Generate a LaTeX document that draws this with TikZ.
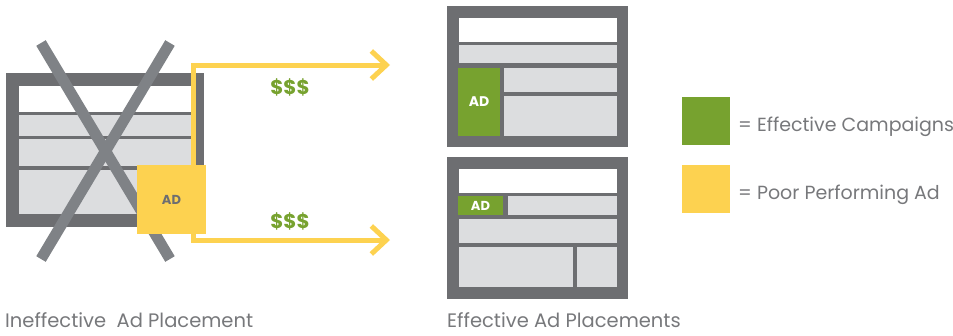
\documentclass[tikz,border=0pt]{standalone}
\usepackage{fontspec}
\setmainfont{Poppins}
\usetikzlibrary{arrows.meta}
\definecolor{framedark}{HTML}{6D6E71}
\definecolor{panel}{HTML}{DCDDDF}
\definecolor{xgray}{HTML}{7F8286}
\definecolor{adyellow}{HTML}{FDD250}
\definecolor{adgreen}{HTML}{77A22F}
\definecolor{txtgray}{HTML}{77787B}
\tikzset{
  frame/.style={fill=framedark},
  whitebar/.style={fill=white},
  panelbar/.style={fill=panel},
  crossline/.style={draw=xgray, line width=11pt},
  yellowbox/.style={fill=adyellow, inner sep=0pt, outer sep=0pt, text=framedark, font=\fontsize{13}{13}\selectfont\bfseries},
  greenbox/.style={fill=adgreen, inner sep=0pt, outer sep=0pt, text=white, font=\fontsize{14}{14}\selectfont\bfseries},
  flow/.style={draw=adyellow, line width=5pt, -{Straight Barb[length=15pt, width=28pt]}},
  money/.style={text=adgreen, font=\fontsize{20}{20}\selectfont\bfseries},
  caption/.style={text=txtgray, font=\fontsize{19.5}{20}\selectfont, inner sep=0pt},
  legendsq/.style={inner sep=0pt, outer sep=0pt, minimum width=48pt, minimum height=48pt},
  legendtxt/.style={text=txtgray, font=\fontsize{19}{20}\selectfont, inner sep=0pt, anchor=base west}
}
\begin{document}
\begin{tikzpicture}[x=1pt, y=-1pt]
\useasboundingbox (0,0) rectangle (953,335);
% ---------- left (ineffective) page ----------
\fill[frame] (6,73) rectangle (204,227);
\fill[whitebar] (19,86) rectangle (191,112);
\fill[panelbar] (19,115) rectangle (191,136);
\fill[panelbar] (19,139) rectangle (191,166);
\fill[panelbar] (19,170) rectangle (191,214);
% cross
\draw[crossline] (41,43) -- (170,259);
\draw[crossline] (170,43) -- (41,259);
% flows
\coordinate (t1) at (390,65);
\coordinate (t2) at (390,240);
\node[yellowbox, minimum width=69pt, minimum height=69pt] (ad) at (171.5,199.5) {};
\draw[flow] ([xshift=22pt]ad.north) |- (t1);
\draw[flow] ([xshift=22pt]ad.south) |- (t2);
\node[yellowbox, minimum width=69pt, minimum height=69pt] (adl) at (171.5,199.5) {AD};
\node[money] (m1) at (290,87) {\$\$\$};
\node[money] (m2) at (290,221) {\$\$\$};
% ---------- right top page ----------
\fill[frame] (447,6) rectangle (628,147);
\fill[whitebar] (459,18) rectangle (617,42);
\fill[panelbar] (459,45) rectangle (617,63);
\fill[panelbar] (504,68) rectangle (617,92);
\fill[panelbar] (504,96) rectangle (617,136);
\node[greenbox, minimum width=42pt, minimum height=68pt] (adt) at (479,102) {AD};
% ---------- right bottom page ----------
\fill[frame] (447,157) rectangle (628,299);
\fill[whitebar] (459,169) rectangle (617,193);
\fill[panelbar] (508,196) rectangle (617,215);
\fill[panelbar] (459,219) rectangle (617,243);
\fill[panelbar] (459,247) rectangle (573,287);
\fill[panelbar] (577,247) rectangle (617,287);
\node[greenbox, minimum width=45pt, minimum height=19pt, font=\fontsize{13}{13}\selectfont\bfseries] (adb) at (480.5,205.5) {AD};
% ---------- captions ----------
\node[caption, anchor=base west] (c1) at (5,327) {Ineffective\ \ Ad Placement};
\node[caption, anchor=base west] (c2) at (447,327) {Effective Ad Placements};
% ---------- legend ----------
\node[legendsq, fill=adgreen] (lg) at (706,120.5) {};
\node[legendsq, fill=adyellow] (ly) at (706,189) {};
\node[legendtxt] (lgt) at (738,131.5) {= Effective Campaigns};
\node[legendtxt] (lyt) at (738,199) {= Poor Performing Ad};
\end{tikzpicture}
\end{document}
